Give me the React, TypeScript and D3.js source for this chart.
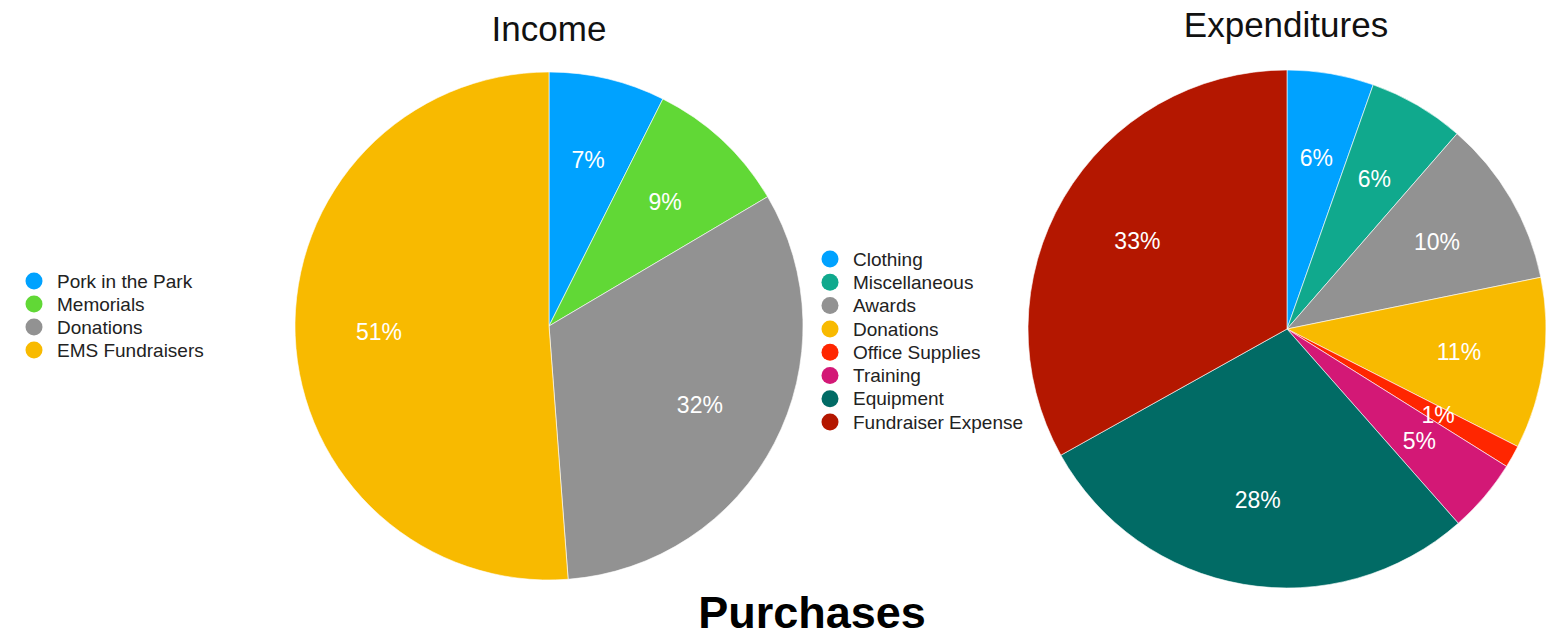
import React from "react";
import * as d3 from "d3";

const incomeCategories = ["Pork in the Park", "Memorials", "Donations", "EMS Fundraisers"];
const incomeValues = [7.4, 9.1, 32.3, 51.2];
const incomeLabels = ["7%", "9%", "32%", "51%"];
const incomeColors = ["#00A2FF", "#61D836", "#929292", "#F8BA00"];

const expCategories = ["Clothing", "Miscellaneous", "Awards", "Donations", "Office Supplies", "Training", "Equipment", "Fundraiser Expense"];
const expValues = [5.4, 6.0, 10.4, 10.7, 1.4, 4.6, 28.4, 33.1];
const expLabels = ["6%", "6%", "10%", "11%", "1%", "5%", "28%", "33%"];
const expColors = ["#00A2FF", "#10A98D", "#929292", "#F8BA00", "#FF2600", "#D31876", "#016B65", "#B41700"];

const FONT = "'Liberation Sans', Arial, Helvetica, sans-serif";

function Pie({ cx, cy, r, values, labels, colors }: { cx: number; cy: number; r: number; values: number[]; labels: string[]; colors: string[] }) {
  const pie = d3.pie<number>().sort(null).value((d) => d);
  const arcs = pie(values);
  const arc = d3.arc<d3.PieArcDatum<number>>().innerRadius(0).outerRadius(r);
  const labelArc = d3.arc<d3.PieArcDatum<number>>().innerRadius(r * 0.67).outerRadius(r * 0.67);
  return (
    <g transform={`translate(${cx},${cy})`}>
      {arcs.map((a, i) => (
        <path key={i} d={arc(a) || ""} fill={colors[i]} stroke="#ffffff" strokeWidth={0.6} />
      ))}
      {arcs.map((a, i) => {
        const [x, y] = labelArc.centroid(a);
        return (
          <text key={"t" + i} x={x} y={y} dy="0.35em" textAnchor="middle" fill="#ffffff" fontFamily={FONT} fontSize={23}>
            {labels[i]}
          </text>
        );
      })}
    </g>
  );
}

function Legend({ x, y, step, items, colors }: { x: number; y: number; step: number; items: string[]; colors: string[] }) {
  return (
    <g>
      {items.map((t, i) => (
        <g key={i} transform={`translate(${x},${y + i * step})`}>
          <circle cx={0} cy={0} r={8.5} fill={colors[i]} />
          <text x={23} y={0} dy="0.35em" fontFamily={FONT} fontSize={19} fill="#222">
            {t}
          </text>
        </g>
      ))}
    </g>
  );
}

export default function App() {
  return (
    <svg width={1551} height={639} style={{ position: "absolute", left: 0, top: 0, background: "#fff" }}>
      <text x={549} y={41} textAnchor="middle" fontFamily={FONT} fontSize={35} fill="#111">Income</text>
      <text x={1286} y={37} textAnchor="middle" fontFamily={FONT} fontSize={35} fill="#111">Expenditures</text>
      <Pie cx={549} cy={326} r={254} values={incomeValues} labels={incomeLabels} colors={incomeColors} />
      <Pie cx={1287} cy={329} r={259} values={expValues} labels={expLabels} colors={expColors} />
      <Legend x={34} y={281} step={23} items={incomeCategories} colors={incomeColors} />
      <Legend x={830} y={259} step={23.3} items={expCategories} colors={expColors} />
      <text x={812} y={628} textAnchor="middle" fontFamily={FONT} fontWeight="bold" fontSize={45} fill="#000">Purchases</text>
    </svg>
  );
}
